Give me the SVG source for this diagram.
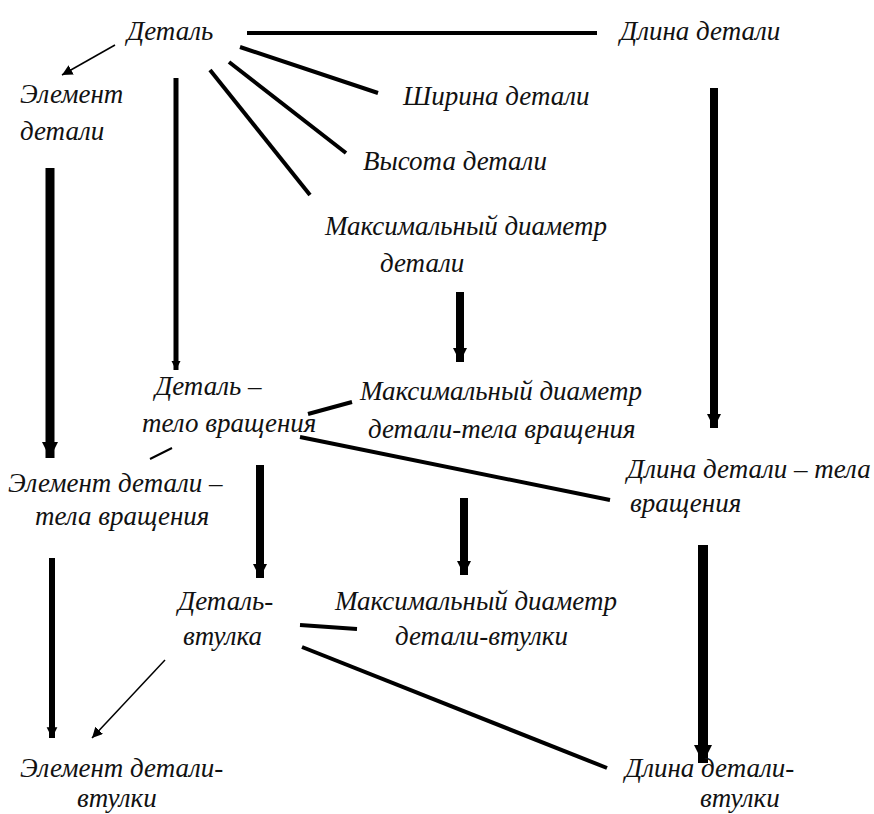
<svg xmlns="http://www.w3.org/2000/svg" width="874" height="814" viewBox="0 0 874 814">
<defs>
<style>
text{font-family:'Liberation Serif','Times New Roman',serif;font-style:italic;font-size:27px;fill:#111}
.l{stroke:#000;fill:none;stroke-linecap:butt}
</style>
<marker id="hb" viewBox="0 0 10 10" refX="10" refY="5" markerWidth="1.8" markerHeight="2.6" orient="auto" markerUnits="strokeWidth"><path d="M0,0L10,5L0,10z" fill="#000"/></marker>
<marker id="ht" viewBox="0 0 10 10" refX="10" refY="5" markerWidth="7" markerHeight="7" orient="auto" markerUnits="strokeWidth"><path d="M0,0L10,5L0,10z" fill="#000"/></marker>
</defs>
<rect width="874" height="814" fill="#fff"/>
<g id="connectors">
<line class="l" x1="247" y1="33" x2="597" y2="33" stroke-width="4"/>
<line class="l" x1="240" y1="47" x2="378" y2="93" stroke-width="4"/>
<line class="l" x1="229" y1="62" x2="346" y2="153" stroke-width="4"/>
<line class="l" x1="210" y1="70" x2="310" y2="195" stroke-width="4"/>
<line class="l" x1="115" y1="45" x2="62" y2="75" stroke-width="1.5" marker-end="url(#ht)"/>
<line class="l" x1="176" y1="78" x2="176" y2="370" stroke-width="5" marker-end="url(#hb)"/>
<line class="l" x1="50" y1="168" x2="50" y2="458" stroke-width="9" marker-end="url(#hb)"/>
<line class="l" x1="714" y1="88" x2="714" y2="428" stroke-width="8" marker-end="url(#hb)"/>
<line class="l" x1="460" y1="292" x2="460" y2="362" stroke-width="8" marker-end="url(#hb)"/>
<line class="l" x1="308" y1="414" x2="352" y2="402" stroke-width="4"/>
<line class="l" x1="300" y1="437" x2="610" y2="500" stroke-width="4"/>
<line class="l" x1="150" y1="459" x2="172" y2="448" stroke-width="2"/>
<line class="l" x1="260" y1="465" x2="260" y2="578" stroke-width="8" marker-end="url(#hb)"/>
<line class="l" x1="464" y1="498" x2="464" y2="575" stroke-width="8" marker-end="url(#hb)"/>
<line class="l" x1="703" y1="545" x2="703" y2="763" stroke-width="10" marker-end="url(#hb)"/>
<line class="l" x1="52" y1="558" x2="52" y2="738" stroke-width="6" marker-end="url(#hb)"/>
<line class="l" x1="300" y1="625" x2="357" y2="629" stroke-width="4"/>
<line class="l" x1="302" y1="647" x2="607" y2="768" stroke-width="4"/>
<line class="l" x1="165" y1="660" x2="92" y2="738" stroke-width="1.5" marker-end="url(#ht)"/>
</g>
<g id="n-detal"><text x="127" y="40">Деталь</text></g>
<g id="n-dlina"><text x="620" y="40">Длина детали</text></g>
<g id="n-element"><text x="20" y="103">Элемент</text><text x="20" y="140">детали</text></g>
<g id="n-shirina"><text x="403" y="105">Ширина детали</text></g>
<g id="n-vysota"><text x="363" y="170">Высота детали</text></g>
<g id="n-maxd"><text x="325" y="235">Максимальный диаметр</text><text x="380" y="272">детали</text></g>
<g id="n-detal-tv"><text x="155" y="395">Деталь –</text><text x="142" y="432">тело вращения</text></g>
<g id="n-maxd-tv"><text x="360" y="400">Максимальный диаметр</text><text x="368" y="438">детали-тела вращения</text></g>
<g id="n-element-tv"><text x="8" y="492">Элемент детали –</text><text x="35" y="525">тела вращения</text></g>
<g id="n-dlina-tv"><text x="627" y="478">Длина детали – тела</text><text x="630" y="512">вращения</text></g>
<g id="n-detal-vt"><text x="178" y="610">Деталь-</text><text x="183" y="645">втулка</text></g>
<g id="n-maxd-vt"><text x="335" y="610">Максимальный диаметр</text><text x="395" y="645">детали-втулки</text></g>
<g id="n-element-vt"><text x="20" y="777">Элемент детали-</text><text x="77" y="807">втулки</text></g>
<g id="n-dlina-vt"><text x="625" y="777">Длина детали-</text><text x="700" y="807">втулки</text></g>
</svg>
